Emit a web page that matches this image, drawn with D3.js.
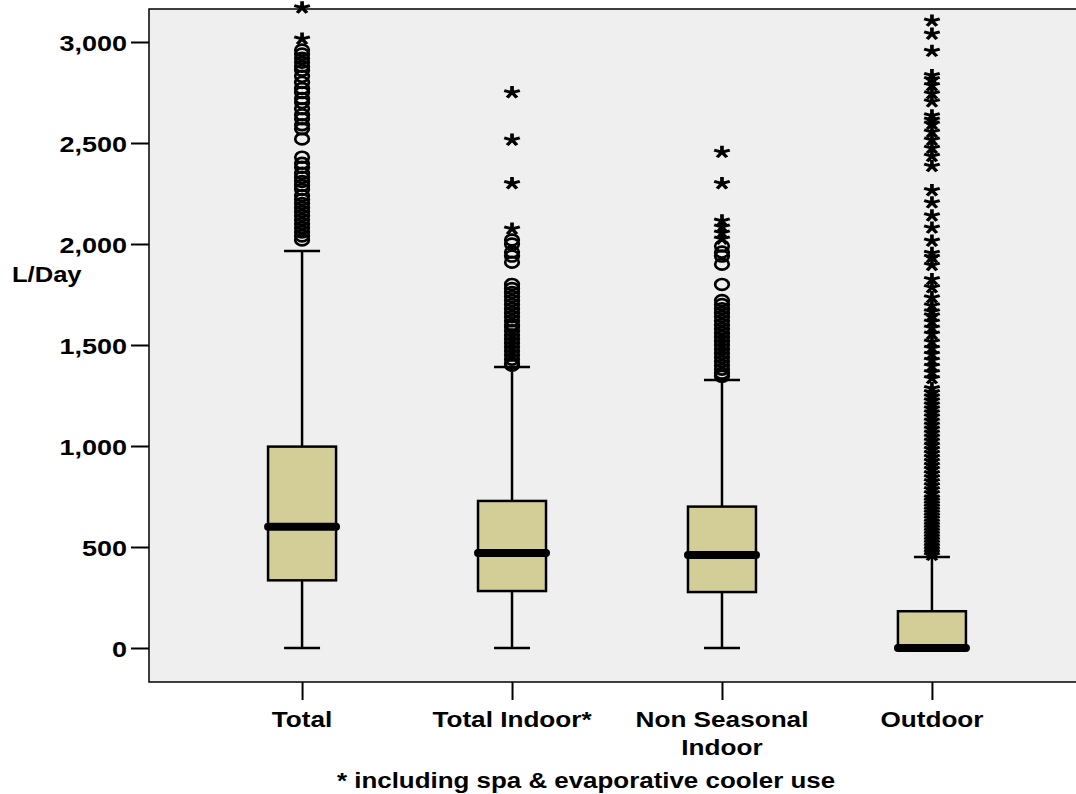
<!DOCTYPE html>
<html>
<head>
<meta charset="utf-8">
<script src="https://cdn.jsdelivr.net/npm/d3@7"></script>
<style>
  body { margin: 0; background: #fff; }
  svg text { font-family: "Liberation Sans", Arial, sans-serif; font-weight: bold; fill: #000; }
</style>
</head>
<body>
<svg id="chart" width="1076" height="794"></svg>
<script>
// Box plot summary per group (L/Day)
const categories = ["Total", "Total Indoor*", "Non Seasonal Indoor", "Outdoor"];
const labelLines = [["Total"], ["Total Indoor*"], ["Non Seasonal", "Indoor"], ["Outdoor"]];
const whiskerLow = [0, 0, 0, 0];
const q1 = [335, 282, 277, 0];
const median = [600, 470, 460, 0];
const q3 = [997, 728, 700, 182];
const whiskerHigh = [1965, 1391, 1327, 450];
const yTicks = [0, 500, 1000, 1500, 2000, 2500, 3000];

// Outliers (circles = outliers, stars = extreme values)
const totalCircles = [2960, 2940, 2920, 2900, 2880, 2860, 2830, 2800, 2770, 2750, 2720, 2700, 2670, 2640, 2620,
  2590, 2570, 2520, 2430, 2400, 2380, 2350, 2330, 2310, 2290, 2270, 2240, 2220, 2200, 2180, 2160, 2140, 2120,
  2100, 2080, 2060, 2040, 2020];
const totalStars = [3020, 3175];
const indoorCircles = [2020, 2000, 1960, 1940, 1910, 1800, 1780, 1760, 1740, 1720, 1700, 1680, 1660, 1640, 1620,
  1600, 1590, 1570, 1550, 1530, 1510, 1490, 1470, 1450, 1430, 1410, 1400];
const indoorStars = [2755, 2520, 2305, 2080];
const nonSeasonalCircles = [1990, 1960, 1940, 1900, 1800, 1720, 1700, 1680, 1660, 1640, 1620, 1600, 1580, 1560,
  1540, 1520, 1500, 1480, 1460, 1440, 1420, 1400, 1380, 1360, 1345];
const nonSeasonalStars = [2460, 2305, 2120, 2090, 2060, 2030];
const outdoorCircles = [];
const outdoorStars = [3110, 3045, 2960, 2840, 2820, 2790, 2750, 2710, 2640, 2620, 2600, 2560, 2520, 2480, 2440,
  2390, 2270, 2210, 2145, 2085, 2020, 1960, 1940, 1900, 1830, 1790, 1740, 1700, 1670, 1650, 1620, 1590, 1560,
  1520, 1490, 1460, 1430, 1400, 1370, 1340, 1290, 1270, 1250, 1230, 1210, 1190, 1170, 1150, 1130, 1110, 1090,
  1070, 1050, 1030, 1010, 990, 970, 950, 930, 910, 890, 870, 850, 830, 810, 790, 770, 750, 735, 720, 705, 690,
  675, 660, 645, 630, 615, 600, 585, 570, 555, 540, 525, 510, 495, 480, 465];

const circleSets = [totalCircles, indoorCircles, nonSeasonalCircles, outdoorCircles];
const starSets = [totalStars, indoorStars, nonSeasonalStars, outdoorStars];

const plot = { left: 149, top: 9, right: 1085, bottom: 682 };
const sx = 1.2; // the original export is stretched horizontally
const boxW = 68, capW = 36, medW = 76;

const svg = d3.select("#chart");

const y = d3.scaleLinear().domain([0, 3000]).range([648, 42]);
const x = d3.scalePoint().domain(categories).range([plot.left, plot.right]).padding(0.729);

// plot background
svg.append("rect")
  .attr("x", plot.left).attr("y", plot.top)
  .attr("width", plot.right - plot.left).attr("height", plot.bottom - plot.top)
  .attr("fill", "#efefef").attr("stroke", "#000").attr("stroke-width", 1.5);

// y axis
const yAxis = svg.append("g")
  .attr("transform", `translate(${plot.left},0)`)
  .call(d3.axisLeft(y).tickValues(yTicks).tickSize(18).tickFormat(d3.format(",")));
yAxis.select(".domain").remove();
yAxis.selectAll(".tick line").attr("stroke", "#000").attr("stroke-width", 2);
yAxis.selectAll(".tick text")
  .attr("font-size", 22.5).attr("font-family", null)
  .attr("x", -22 / sx).attr("dy", "0.36em")
  .attr("transform", `scale(${sx},1)`);

// x axis
const xAxis = svg.append("g")
  .attr("transform", `translate(0,${plot.bottom})`)
  .call(d3.axisBottom(x).tickSize(18).tickFormat(""));
xAxis.select(".domain").remove();
xAxis.selectAll(".tick line").attr("stroke", "#000").attr("stroke-width", 2);

categories.forEach((c, i) => {
  labelLines[i].forEach((line, j) => {
    svg.append("text")
      .attr("transform", `translate(${x(c)},${727 + j * 28}) scale(${sx},1)`)
      .attr("text-anchor", "middle")
      .attr("font-size", 21.8)
      .text(line);
  });
});

// axis title and footnote
svg.append("text")
  .attr("transform", `translate(12,282) scale(${sx},1)`)
  .attr("font-size", 21.3)
  .text("L/Day");

svg.append("text")
  .attr("transform", `translate(586,788) scale(${sx},1)`)
  .attr("text-anchor", "middle")
  .attr("font-size", 21.6)
  .text("* including spa & evaporative cooler use");

// boxes
const g = svg.append("g");
categories.forEach((c, i) => {
  const cx = x(c);
  // whiskers
  g.append("line").attr("x1", cx).attr("x2", cx)
    .attr("y1", y(q3[i])).attr("y2", y(whiskerHigh[i]))
    .attr("stroke", "#000").attr("stroke-width", 2.5);
  g.append("line").attr("x1", cx).attr("x2", cx)
    .attr("y1", y(q1[i])).attr("y2", y(whiskerLow[i]))
    .attr("stroke", "#000").attr("stroke-width", 2.5);
  [whiskerHigh[i], whiskerLow[i]].forEach((v) => {
    g.append("line").attr("x1", cx - capW / 2).attr("x2", cx + capW / 2)
      .attr("y1", y(v)).attr("y2", y(v))
      .attr("stroke", "#000").attr("stroke-width", 2.5);
  });
  // box
  g.append("rect")
    .attr("x", cx - boxW / 2).attr("width", boxW)
    .attr("y", y(q3[i])).attr("height", y(q1[i]) - y(q3[i]))
    .attr("fill", "#d3cd98").attr("stroke", "#000").attr("stroke-width", 2.5);
  // median
  g.append("line").attr("x1", cx - medW / 2 + 4).attr("x2", cx + medW / 2 - 4)
    .attr("y1", y(median[i])).attr("y2", y(median[i]))
    .attr("stroke", "#000").attr("stroke-width", 8).attr("stroke-linecap", "round");
});

// outliers
const starPath = d3.range(5).map((k) => {
  const a = (-90 + 72 * k) * Math.PI / 180;
  return `M0,0L${(6.4 * Math.cos(a)).toFixed(2)},${(6.4 * Math.sin(a)).toFixed(2)}`;
}).join("");

categories.forEach((c, i) => {
  const cx = x(c);
  g.selectAll(null).data(circleSets[i]).enter().append("ellipse")
    .attr("cx", cx).attr("cy", (d) => y(d))
    .attr("rx", 6.8).attr("ry", 5.4)
    .attr("fill", "none").attr("stroke", "#000").attr("stroke-width", 2.7);
  g.selectAll(null).data(starSets[i]).enter().append("path")
    .attr("d", starPath)
    .attr("transform", (d) => `translate(${cx},${y(d) + 1}) scale(1.28,1)`)
    .attr("fill", "none").attr("stroke", "#000").attr("stroke-width", 2.9);
});
</script>
</body>
</html>
